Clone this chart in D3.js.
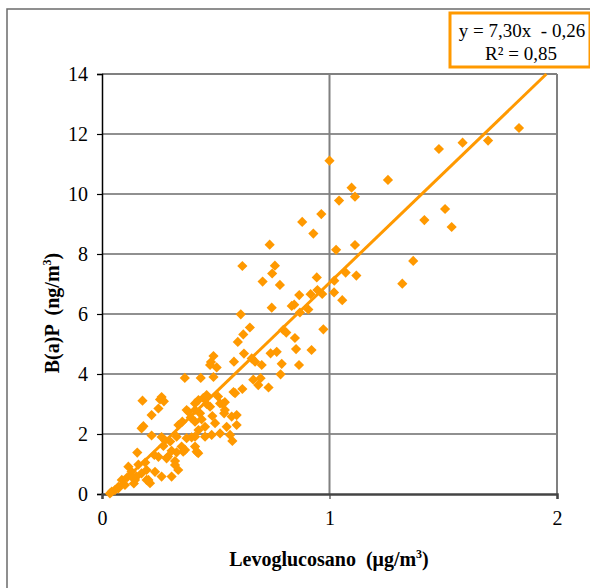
<!DOCTYPE html>
<html><head><meta charset="utf-8">
<script src="https://cdn.jsdelivr.net/npm/d3@7"></script>
<style>body{margin:0;background:#fff}svg{display:block}text{font-family:'Liberation Serif','Times New Roman',serif}</style>
</head><body>
<svg id="c" width="590" height="588"></svg>
<script>
const xTicks = [0, 1, 2];
const yTicks = [0, 2, 4, 6, 8, 10, 12, 14];
const slope = 7.30, intercept = -0.26;
const eqText = "y = 7,30x  - 0,26";
const r2Text = "R² = 0,85";
const levoglucosano = [
1.00,1.257,1.097,1.112,1.042,1.481,1.585,1.697,1.833,1.508,1.417,1.537,0.964,0.88,0.929,0.737,1.029,1.112,1.368,1.32,
0.617,0.76,0.748,0.706,0.782,0.944,1.021,1.071,1.118,0.867,0.917,0.947,0.968,1.02,0.845,0.746,0.87,0.907,1.056,0.61,0.834,
0.973,0.797,0.81,0.848,0.853,0.921,0.768,0.741,0.65,0.621,0.597,0.624,0.658,0.673,0.49,0.479,0.475,0.504,0.58,0.702,0.79,0.866,0.785,
0.364,0.434,0.49,0.665,0.697,0.687,0.732,0.617,0.578,0.262,0.445,0.178,0.255,0.272,0.409,0.424,0.46,0.519,0.54,0.585,
0.248,0.218,0.38,0.372,0.475,0.409,0.485,0.53,0.54,0.57,0.592,0.431,0.537,0.409,0.438,0.497,0.548,0.592,0.424,0.453,0.182,0.174,0.336,0.353,0.519,0.482,0.563,
0.573,0.218,0.262,0.277,0.328,0.394,0.409,0.453,0.372,0.35,0.365,0.409,0.423,0.416,0.357,0.306,0.328,0.155,0.248,0.284,0.321,0.321,0.335,
0.116,0.13,0.174,0.196,0.233,0.196,0.145,0.087,0.072,0.057,0.035,0.101,0.211,0.262,0.152,0.204,0.043,0.072,0.306,
0.125,0.16,0.19,0.23,0.14,0.11,0.27,0.3,0.39,0.46,0.51,0.29
];
const bap = [
11.11,10.47,10.21,9.91,9.78,11.5,11.71,11.78,12.2,9.5,9.13,8.9,9.33,9.07,8.68,8.31,8.14,8.3,7.77,7.01,
7.6,7.61,7.35,7.08,6.97,7.22,7.11,7.38,7.28,6.63,6.66,6.8,6.67,6.72,6.31,6.21,6.05,6.15,6.46,5.99,6.27,
5.49,5.47,5.38,5.2,4.83,4.8,4.74,4.69,5.55,5.32,5.07,4.68,4.52,4.41,4.6,4.4,4.3,4.22,4.41,4.3,4.34,4.3,3.99,
3.87,3.87,3.9,3.81,3.86,3.63,3.55,3.5,3.4,3.23,3.2,3.11,3.15,3.09,3.02,3.13,3.3,3.02,3.06,3.36,
2.85,2.63,2.74,2.8,2.91,2.8,2.6,3.0,2.8,2.58,2.63,2.69,2.69,2.41,2.49,2.36,2.24,2.3,2.13,2.24,2.26,2.19,2.3,2.41,2.02,1.97,1.97,
1.77,1.95,1.9,1.79,1.91,1.89,1.91,1.91,1.86,1.58,1.47,1.58,1.36,1.41,1.41,1.44,1.39,1.38,1.24,1.19,1.1,0.97,0.8,
0.91,0.74,0.69,0.8,0.74,0.47,0.47,0.47,0.24,0.13,0.02,0.3,0.36,0.58,0.58,0.47,0.08,0.19,0.58,
0.62,0.98,1.05,1.3,0.35,0.55,1.6,1.75,2.55,3.0,3.25,1.25
];

const svg = d3.select("#c");
const orange = "#FF9900";
const serif = "'Liberation Serif','Times New Roman',serif";

// outer chart border
svg.append("rect").attr("x", 7).attr("y", 9).attr("width", 600).attr("height", 600)
  .attr("fill", "none").attr("stroke", "#6b6b6b").attr("stroke-width", 1.5);

const x = d3.scaleLinear().domain([0, 2]).range([102, 557]);
const y = d3.scaleLinear().domain([0, 14]).range([494, 74]);

// horizontal grid
svg.append("g").selectAll("line").data(yTicks.filter(d => d > 0)).join("line")
  .attr("x1", x(0)).attr("x2", x(2)).attr("y1", d => y(d)).attr("y2", d => y(d))
  .attr("stroke", d => d === 14 ? "#808080" : "#222").attr("stroke-width", d => d === 14 ? 2 : 1.2);
// vertical grid
svg.append("g").selectAll("line").data(xTicks.filter(d => d > 0)).join("line")
  .attr("x1", d => x(d)).attr("x2", d => x(d)).attr("y1", y(0)).attr("y2", y(14))
  .attr("stroke", "#808080").attr("stroke-width", 2);

// axes
const yAxis = svg.append("g").attr("transform", `translate(${x(0)},0)`)
  .call(d3.axisLeft(y).tickValues(yTicks).tickFormat(d3.format("d")).tickSize(5).tickPadding(9));
yAxis.attr("font-family", serif).attr("font-size", 20);
yAxis.select(".domain").attr("stroke", "#000").attr("stroke-width", 1.5);
yAxis.selectAll(".tick line").attr("stroke", "#000").attr("stroke-width", 1.2);
yAxis.selectAll("text").style("font-family", serif).style("font-size", "20px").attr("fill", "#000");

const xAxis = svg.append("g").attr("transform", `translate(0,${y(0)})`)
  .call(d3.axisBottom(x).tickValues(xTicks).tickFormat(d3.format("d")).tickSize(5).tickPadding(12));
xAxis.attr("font-family", serif).attr("font-size", 20);
xAxis.select(".domain").attr("stroke", "#444").attr("stroke-width", 2.5);
xAxis.selectAll(".tick line").attr("stroke", "#444").attr("stroke-width", 1.2);
xAxis.selectAll("text").style("font-family", serif).style("font-size", "20px").attr("fill", "#000");

// points
const sym = d3.symbol().type(d3.symbolSquare).size(52);
svg.append("g").selectAll("path").data(levoglucosano.map((v, i) => [v, bap[i]])).join("path")
  .attr("d", sym)
  .attr("transform", d => `translate(${x(d[0])},${y(d[1])}) rotate(45)`)
  .attr("fill", orange);

// regression line
const x0 = -intercept / slope, x1 = (14 - intercept) / slope;
svg.append("line")
  .attr("x1", x(x0)).attr("y1", y(slope * x0 + intercept))
  .attr("x2", x(x1)).attr("y2", y(slope * x1 + intercept))
  .attr("stroke", orange).attr("stroke-width", 3);

// equation box
svg.append("rect").attr("x", 450).attr("y", 13).attr("width", 140).attr("height", 54)
  .attr("fill", "#fff").attr("stroke", orange).attr("stroke-width", 3);
svg.append("text").attr("x", 522).attr("y", 37).attr("text-anchor", "middle")
  .style("font-family", serif).style("font-size", "19px").style("white-space", "pre").text(eqText);
svg.append("text").attr("x", 521).attr("y", 60).attr("text-anchor", "middle")
  .style("font-family", serif).style("font-size", "19px").text(r2Text);

// axis titles
const xt = svg.append("text").attr("x", 329).attr("y", 566).attr("text-anchor", "middle")
  .style("font-family", serif).style("font-size", "20px").attr("font-weight", "bold").style("white-space", "pre");
xt.append("tspan").text("Levoglucosano  (μg/m");
xt.append("tspan").style("font-size", "12px").attr("dy", -8).text("3");
xt.append("tspan").attr("dy", 8).text(")");

const yt = svg.append("text").attr("transform", "translate(59,313) rotate(-90)").attr("text-anchor", "middle")
  .style("font-family", serif).style("font-size", "20px").attr("font-weight", "bold").style("white-space", "pre");
yt.append("tspan").text("B(a)P  (ng/m");
yt.append("tspan").style("font-size", "12px").attr("dy", -8).text("3");
yt.append("tspan").attr("dy", 8).text(")");
</script>
</body></html>
